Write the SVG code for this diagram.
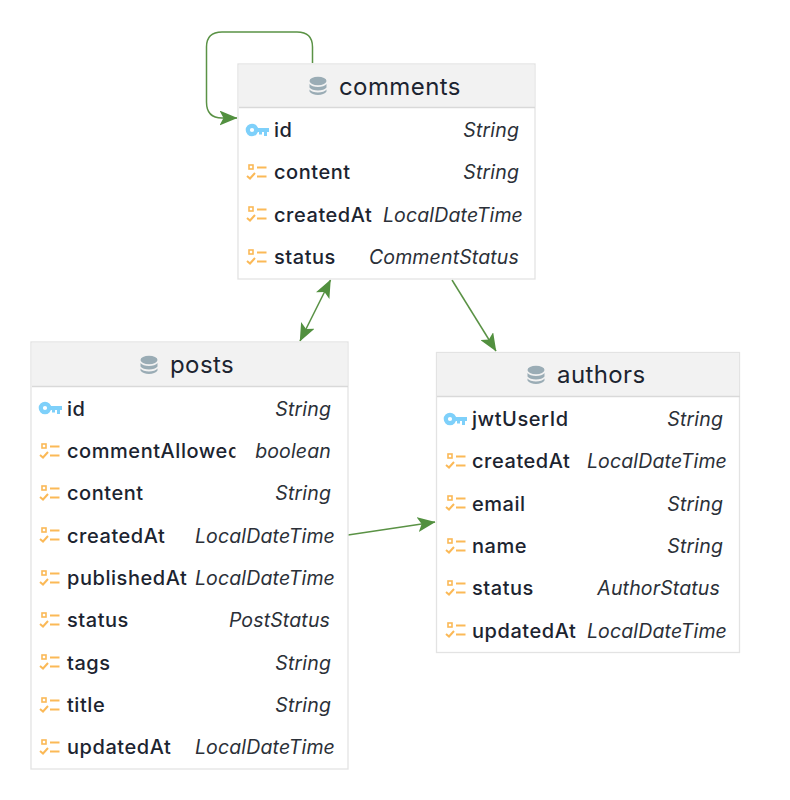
<svg xmlns="http://www.w3.org/2000/svg" xmlns:xlink="http://www.w3.org/1999/xlink" width="790" height="800" viewBox="0 0 790 800">
<style>
text{font-family:Inter,"Noto Sans","Liberation Sans",sans-serif;fill:#1c2430}
.t{font-size:24px;letter-spacing:.4px;text-anchor:start}
.f{font-size:20px;font-weight:500;letter-spacing:.55px}
.y{font-size:19.500px;font-style:italic;letter-spacing:.15px;text-anchor:end;fill:#2b3038}
.box{fill:#fff;stroke:#e3e3e3;stroke-width:1.300}
.head{fill:#f2f2f2}
.sep{stroke:#d9d9d9;stroke-width:1.500}
.c{fill:none;stroke:#5a9245;stroke-width:1.500}
</style>
<defs>
<marker id="a" viewBox="0 0 18 15" refX="17.500" refY="7.500" markerWidth="18" markerHeight="15" markerUnits="userSpaceOnUse" orient="auto-start-reverse"><path d="M0 0L18 7.500L0 15L4 7.500Z" fill="#52903f"/></marker>
<g id="db"><ellipse cx="0" cy="-5" rx="8.500" ry="4.200" fill="#9aacb5"/><path d="M-8.500 -2C-6 2 6 2 8.500 -2V1.500C6 5.500 -6 5.500 -8.500 1.500Z" fill="#9aacb5"/><path d="M-8.500 3.500C-6 7.500 6 7.500 8.500 3.500V5.500C6 10 -6 10 -8.500 5.500Z" fill="#9aacb5"/></g>
<g id="key"><circle cx="-6" cy="0" r="4.200" fill="none" stroke="#7ed0fa" stroke-width="4.200"/><path d="M-1 -2H11V2H9V6H6V2H4V4.500H1V2H-1Z" fill="#7ed0fa"/></g>
<g id="fld" fill="none" stroke="#fbb957" stroke-width="2"><rect x="-8" y="-7" width="4" height="4" stroke-width="1.600"/><path d="M0 -4.500H9.500M0 4.500H9.500M-10 4L-7 6.500L-2 1"/></g>
<clipPath id="cl"><rect x="60" y="430" width="175.500" height="40"/></clipPath>
</defs>
<g id="connectors">
<path class="c" d="M312.500 63V47Q312.500 32 297 32H222Q206.500 32 206.500 47V102Q206.500 118 222 118H237" marker-end="url(#a)"/>
<path class="c" d="M330.500 280L300 341" marker-start="url(#a)" marker-end="url(#a)"/>
<path class="c" d="M452 280L496 351" marker-end="url(#a)"/>
<path class="c" d="M348 535L435 522" marker-end="url(#a)"/>
</g>
<g id="comments">
<rect class="box" x="238" y="64" width="297" height="215"/>
<rect class="head" x="239" y="65" width="295" height="42"/>
<path class="sep" d="M239 107.500H535"/>
<use xlink:href="#db" x="318" y="86"/>
<text class="t" x="339" y="95">comments</text>
<use xlink:href="#key" x="258" y="130"/><text class="f" x="274" y="137">id</text><text class="y" x="519" y="137">String</text>
<use xlink:href="#fld" x="257" y="172"/><text class="f" x="274" y="179">content</text><text class="y" x="519" y="179">String</text>
<use xlink:href="#fld" x="257" y="214"/><text class="f" x="274" y="222">createdAt</text><text class="y" x="523" y="222">LocalDateTime</text>
<use xlink:href="#fld" x="257" y="257"/><text class="f" x="274" y="264">status</text><text class="y" x="519" y="264">CommentStatus</text>
</g>
<g id="posts">
<rect class="box" x="31" y="342" width="317" height="427"/>
<rect class="head" x="32" y="343" width="315" height="43"/>
<path class="sep" d="M32 386.500H348"/>
<use xlink:href="#db" x="149" y="365"/>
<text class="t" x="170" y="373">posts</text>
<use xlink:href="#key" x="51" y="408"/><text class="f" x="67" y="416">id</text><text class="y" x="331" y="416">String</text>
<use xlink:href="#fld" x="50" y="451"/><text class="f" x="67" y="458" clip-path="url(#cl)">commentAllowed</text><text class="y" x="331" y="458">boolean</text>
<use xlink:href="#fld" x="50" y="493"/><text class="f" x="67" y="500">content</text><text class="y" x="331" y="500">String</text>
<use xlink:href="#fld" x="50" y="535"/><text class="f" x="67" y="543">createdAt</text><text class="y" x="335" y="543">LocalDateTime</text>
<use xlink:href="#fld" x="50" y="578"/><text class="f" x="67" y="585">publishedAt</text><text class="y" x="335" y="585">LocalDateTime</text>
<use xlink:href="#fld" x="50" y="620"/><text class="f" x="67" y="627">status</text><text class="y" x="330" y="627">PostStatus</text>
<use xlink:href="#fld" x="50" y="662"/><text class="f" x="67" y="670">tags</text><text class="y" x="331" y="670">String</text>
<use xlink:href="#fld" x="50" y="705"/><text class="f" x="67" y="712">title</text><text class="y" x="331" y="712">String</text>
<use xlink:href="#fld" x="50" y="747"/><text class="f" x="67" y="754">updatedAt</text><text class="y" x="335" y="754">LocalDateTime</text>
</g>
<g id="authors">
<rect class="box" x="436.500" y="352.500" width="303" height="300"/>
<rect class="head" x="437" y="353" width="302" height="43"/>
<path class="sep" d="M437 396.500H740"/>
<use xlink:href="#db" x="536" y="375"/>
<text class="t" x="557" y="383">authors</text>
<use xlink:href="#key" x="456" y="419"/><text class="f" x="472" y="426">jwtUserId</text><text class="y" x="723" y="426">String</text>
<use xlink:href="#fld" x="456" y="461"/><text class="f" x="472" y="468">createdAt</text><text class="y" x="727" y="468">LocalDateTime</text>
<use xlink:href="#fld" x="456" y="503"/><text class="f" x="472" y="511">email</text><text class="y" x="723" y="511">String</text>
<use xlink:href="#fld" x="456" y="546"/><text class="f" x="472" y="553">name</text><text class="y" x="723" y="553">String</text>
<use xlink:href="#fld" x="456" y="588"/><text class="f" x="472" y="595">status</text><text class="y" x="720" y="595">AuthorStatus</text>
<use xlink:href="#fld" x="456" y="630"/><text class="f" x="472" y="638">updatedAt</text><text class="y" x="727" y="638">LocalDateTime</text>
</g>
</svg>
